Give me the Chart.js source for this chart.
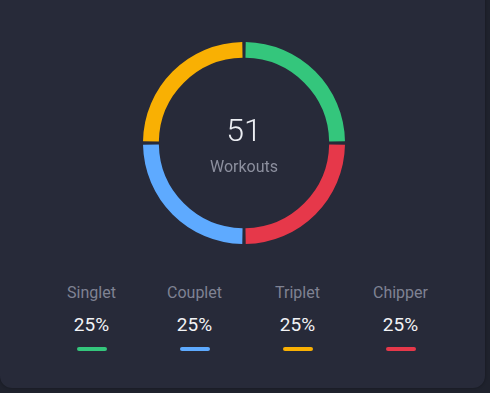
<!DOCTYPE html>
<html>
<head>
<meta charset="utf-8">
<script src="https://cdn.jsdelivr.net/npm/chart.js@4.4.0/dist/chart.umd.min.js"></script>
<style>
  html, body { margin: 0; padding: 0; }
  body { width: 490px; height: 393px; background: #1f222d; overflow: hidden; font-family: Roboto, "Open Sans", sans-serif; }
  .card { position: absolute; left: 0; top: -12px; width: 485px; height: 400px; background: #272a39; border-radius: 12px; box-shadow: 0 0 3px rgba(0,0,0,0.35); }
  .ring { position: absolute; left: 143px; top: 42px; width: 202px; height: 202px; }
  .center { position: absolute; left: 143px; top: 42px; width: 202px; text-align: center; pointer-events: none; }
  .total { position: absolute; left: 0; right: 0; top: 69px; font-size: 32px; font-weight: 300; color: #eceef3; }
  .sub { position: absolute; left: 0; right: 0; top: 115px; font-size: 16px; color: #8c8f9e; }
  .legend { position: absolute; left: 40px; top: 283px; width: 412px; display: flex; }
  .item { flex: 1; text-align: center; }
  .name { font-size: 16px; color: #7f8293; height: 20px; line-height: 20px; }
  .pct { font-size: 19px; color: #f2f3f6; margin-top: 11px; height: 22px; line-height: 22px; }
  .bar { width: 30px; height: 4px; border-radius: 2px; margin: 11px auto 0; }
</style>
</head>
<body>
<div class="card"></div>
<div class="ring"><canvas id="ring" width="202" height="202"></canvas></div>
<div class="center">
  <div class="total" id="total"></div>
  <div class="sub">Workouts</div>
</div>
<div class="legend" id="legend"></div>
<script>
// legend order
var labels = ["Singlet", "Couplet", "Triplet", "Chipper"];
var shares = [25, 25, 25, 25];
var colors = ["#34c67c", "#5eaaff", "#f9b003", "#e6384a"];
var totalWorkouts = 51;
// clockwise order on the ring, starting at 12 o'clock
var ringOrder = [0, 3, 1, 2];

document.getElementById("total").textContent = totalWorkouts;

var legend = document.getElementById("legend");
for (var i = 0; i < labels.length; i++) {
	var item = document.createElement("div");
	item.className = "item";
	item.innerHTML = '<div class="name">' + labels[i] + '</div>' +
		'<div class="pct">' + shares[i] + '%</div>' +
		'<div class="bar" style="background:' + colors[i] + '"></div>';
	legend.appendChild(item);
}

new Chart(document.getElementById("ring"), {
	type: "doughnut",
	data: {
		labels: ringOrder.map(function (k) { return labels[k]; }),
		datasets: [{
			data: ringOrder.map(function (k) { return shares[k]; }),
			backgroundColor: ringOrder.map(function (k) { return colors[k]; }),
			borderWidth: 0,
			spacing: 4
		}]
	},
	options: {
		responsive: false,
		animation: false,
		cutout: "84%",
		layout: { padding: 0 },
		plugins: {
			legend: { display: false },
			tooltip: { enabled: false }
		}
	}
});
</script>
</body>
</html>
